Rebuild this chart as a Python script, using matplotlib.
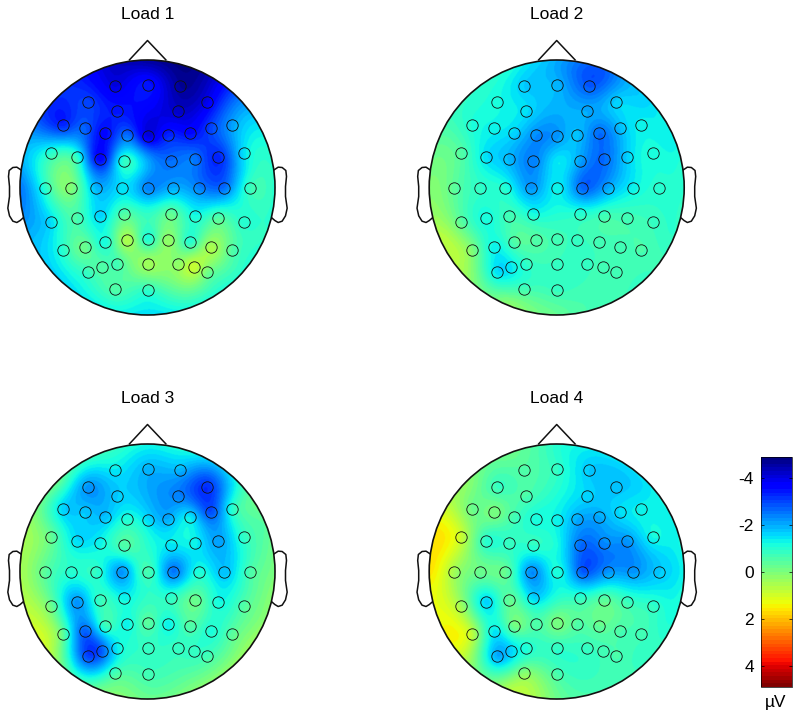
import numpy as np
import matplotlib
matplotlib.use("Agg")
import matplotlib.pyplot as plt
from matplotlib.patches import Circle

plt.rcParams["font.family"] = ["Liberation Sans", "DejaVu Sans"]

# electrode positions, measured from head centre (in 3x pixels, y up)
elec_x = [-98, 0, 98,
          -178, 178,
          -92, 92,
          -254, -189, -127, -61, 0, 61, 127, 189, 254,
          -288, -212, -142, -70, 70, 142, 212, 288,
          -307, -231, -154, -77, 0, 77, 154, 230, 307,
          -288, -212, -142, -70, 70, 142, 212, 288,
          -254, -189, -127, -61, 0, 61, 127, 189, 254,
          -178, -138, -92, 0, 92, 138, 178,
          -98, 0]
elec_y = [304, 307, 304,
          255, 255,
          228, 228,
          188, 178, 164, 158, 154, 158, 164, 178, 188,
          105, 91, 87, 80, 80, 87, 91, 105,
          0, 0, 0, 0, 0, 0, 0, 0, 0,
          -104, -90, -84, -79, -79, -84, -90, -104,
          -187, -177, -163, -156, -153, -156, -163, -177, -187,
          -254, -238, -228, -230, -228, -238, -254,
          -303, -307]

# values at the electrodes, uV
load1 = [-4.0, -3.4, -4.6,
         -3.0, -3.9,
         -3.4, -4.2,
         -3.3, -2.7, -3.6, -2.6, -4.0, -3.3, -3.6, -3.0, -2.1,
         -1.0, -0.9, -3.7, -0.9, -2.6, -2.5, -3.3, -1.5,
         -1.0, 0.1, -1.9, -1.5, -2.4, -2.0, -2.4, -2.6, -0.8,
         -1.5, -0.6, -1.6, -0.5, -0.3, -1.2, -0.5, -1.0,
         -1.0, -0.2, -1.2, 0.6, -1.1, 0.3, -1.0, 0.5, -0.5,
         -0.8, -0.5, -0.7, 0.4, 0.2, 0.9, -0.1,
         -0.5, -0.9]
load2 = [-1.7, -1.9, -2.8,
         -1.2, -1.6,
         -1.5, -2.0,
         -1.1, -1.3, -1.6, -2.3, -2.2, -1.8, -2.6, -1.8, -1.3,
         -0.5, -1.5, -1.9, -2.4, -2.1, -2.6, -1.6, -1.1,
         -0.4, -0.9, -1.1, -2.2, -1.3, -2.7, -2.0, -1.3, -1.0,
         -0.4, -1.2, -0.7, -1.2, -1.0, -0.7, -0.7, -0.8,
         0.0, -1.3, -0.5, -0.5, -0.7, -0.8, -0.7, -0.7, -0.6,
         -1.5, -1.4, -0.9, -0.8, -0.8, -0.7, -0.7,
         -0.7, -0.8]
load3 = [-1.4, -1.9, -1.9,
         -2.2, -3.2,
         -1.7, -2.4,
         -1.6, -1.7, -1.8, -1.1, -1.5, -2.0, -1.4, -2.9, -1.0,
         -0.3, -1.5, -1.3, -0.5, -1.4, -1.3, -2.1, -0.9,
         -0.4, -1.0, -0.9, -2.2, -0.6, -2.5, -1.1, -1.8, -0.6,
         -0.2, -2.2, -0.8, -1.3, -0.9, -0.2, -1.2, -0.5,
         -0.3, -2.7, -0.8, -1.3, -0.4, -1.3, -0.5, -1.1, -0.4,
         -3.0, -2.8, -1.4, -0.9, -0.8, -0.9, -0.7,
         -0.7, -0.7]
load4 = [-0.5, -0.9, -1.7,
         -0.8, -1.8,
         -0.6, -1.6,
         -0.2, 0.0, -0.7, -1.2, -1.3, -2.0, -2.0, -1.5, -1.3,
         0.9, -1.0, -0.9, -0.9, -2.6, -2.3, -2.2, -1.2,
         0.4, -0.2, -0.3, -2.3, -1.1, -2.8, -2.2, -2.2, -1.7,
         0.4, -1.6, -0.3, -1.6, -0.9, -0.4, -0.8, -0.9,
         0.7, -1.4, -0.1, -0.6, 0.0, -0.5, -0.3, -0.6, -0.7,
         -2.0, -1.6, -1.1, -0.9, -0.8, -0.7, -0.6,
         0.1, -0.6]

# values on the head rim, clockwise from the nose, and at the gap in the middle
rim1 = [-4.6, -4.7, -2.6, -1.2, -1.0, -0.9, -1.0, -1.1, -1.5, -1.3, -1.6, -1.9, -2.5, -2.0, -3.2, -3.9]
rim2 = [-2.0, -2.7, -1.6, -1.3, -0.9, -0.9, -0.8, -0.7, -0.3, 0.2, 0.3, 0.7, 0.1, -0.4, -0.9, -1.1]
rim3 = [-1.2, -1.3, -1.1, -0.4, 0.0, 0.2, 0.3, 0.1, -0.2, -0.2, 0.2, 0.9, 0.5, 0.3, -0.2, -0.8]
rim4 = [-1.0, -1.4, -1.4, -1.3, -1.2, -1.1, -0.9, -0.6, -0.2, 0.6, 0.5, 1.3, 1.6, 1.4, 0.2, -0.2]
middle = [-2.0, -1.4, -1.0, -1.2]

titles = ["Load 1", "Load 2", "Load 3", "Load 4"]
loads = [load1, load2, load3, load4]
rims = [rim1, rim2, rim3, rim4]
centres = [(147.5, 187.5), (556.7, 187.5), (147.5, 571.5), (556.7, 571.5)]

cbar_ticks = [-4, -2, 0, 2, 4]
cbar_labels = ["-4", "-2", "0", "2", "4"]
vmax = 4.9

# head outline, same 3x units
nose_x = [-54, 0, 55]
nose_y = [383, 441, 383]
ear_x = [-380, -392, -404, -415, -417, -414, -414, -419, -414, -404, -392, -382, -374]
ear_y = [53, 61, 60, 51, 33, 3, -27, -62, -85, -101, -105, -99, -92]

R = 382.5
W, H = 800, 718
HALF = 147

fig = plt.figure(figsize=(W / 100, H / 100), dpi=100)
cmap = plt.get_cmap("jet", 64)


def spline_grid(x, y, v, gx, gy):
    # biharmonic spline, same idea as the usual scalp map
    d = np.hypot(x[:, None] - x[None, :], y[:, None] - y[None, :])
    g = np.where(d > 0, d**2 * (np.log(d + 1e-12) - 1), 0)
    w = np.linalg.solve(g, v)
    d2 = np.hypot(gx[..., None] - x, gy[..., None] - y)
    g2 = np.where(d2 > 0, d2**2 * (np.log(d2 + 1e-12) - 1), 0)
    return g2 @ w


ex = np.array(elec_x) / R
ey = np.array(elec_y) / R
ang = np.deg2rad(np.arange(16) * 22.5)
px = np.concatenate([ex, [0.0], np.sin(ang)])
py = np.concatenate([ey, [80 / R], np.cos(ang)])

grid = np.linspace(-1.02, 1.02, 400)
gx, gy = np.meshgrid(grid, grid)

for i in range(4):
    cx, cy = centres[i]
    ax = fig.add_axes([(cx - HALF) / W, 1 - (cy + HALF) / H, 2 * HALF / W, 2 * HALF / H])
    lim = HALF / 127.5
    ax.set_xlim(-lim, lim)
    ax.set_ylim(-lim, lim)
    ax.axis("off")

    v = np.concatenate([loads[i], [middle[i]], rims[i]])
    z = spline_grid(px, py, v, gx, gy)
    im = ax.imshow(z, origin="lower", extent=[-1.02, 1.02, -1.02, 1.02], cmap=cmap,
                   vmin=-vmax, vmax=vmax, interpolation="bilinear")
    head = Circle((0, 0), 1.0, fc="none", ec="#111111", lw=1.2, zorder=4)
    ax.add_patch(head)
    im.set_clip_path(head)

    ax.plot(ex, ey, "o", ms=8.2, mfc="none", mec="#111111", mew=0.6, zorder=3)
    ax.plot(np.array(nose_x) / R, np.array(nose_y) / R, color="#111111", lw=1.1, clip_on=False)
    ax.plot(np.array(ear_x) / R, np.array(ear_y) / R, color="#111111", lw=1.1, clip_on=False)
    ax.plot(-np.array(ear_x) / R, np.array(ear_y) / R, color="#111111", lw=1.1, clip_on=False)
    ax.text(0, 173 / 127.5, titles[i], ha="center", va="center", fontsize=12.5, clip_on=False)

# colorbar, negative on top
cax = fig.add_axes([761 / W, 1 - 686.7 / H, 31 / W, 230 / H])
cb = fig.colorbar(im, cax=cax, ticklocation="left")
cb.ax.invert_yaxis()
cb.set_ticks(cbar_ticks, labels=cbar_labels)
cb.ax.tick_params(direction="in", length=2, width=0.5, left=True, right=True, labelsize=12.5, pad=5)
cb.outline.set_linewidth(0.5)
fig.text(776 / W, 1 - 702 / H, "µV", ha="center", va="center", fontsize=12.5)

fig.savefig("out.png", dpi=100)
